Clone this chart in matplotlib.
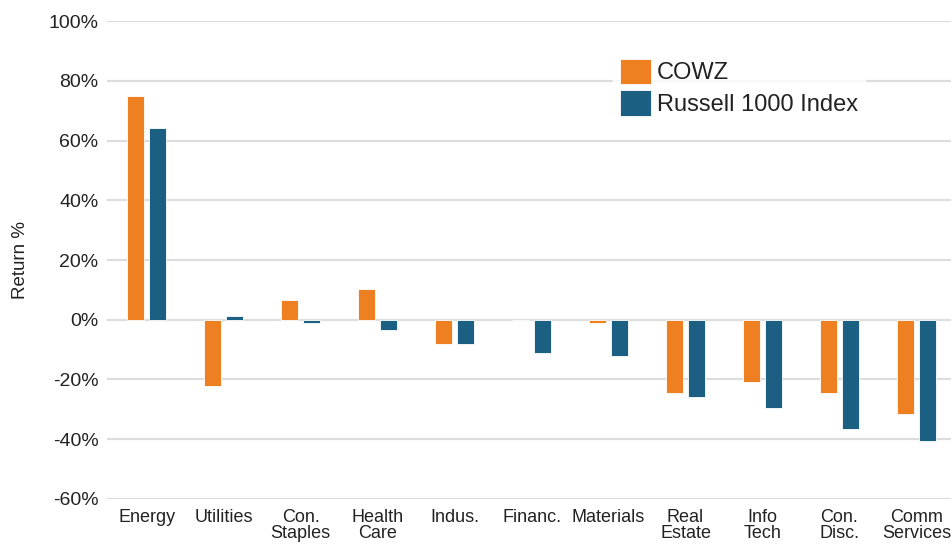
import numpy as np
import matplotlib.pyplot as plt
from matplotlib.ticker import FuncFormatter

# sector returns
sectors = ['Energy', 'Utilities', 'Con.\nStaples', 'Health\nCare', 'Indus.', 'Financ.',
           'Materials', 'Real\nEstate', 'Info\nTech', 'Con.\nDisc.', 'Comm\nServices']
cowz = [75.0, -22.3, 6.5, 10.3, -8.0, 0.0, -1.0, -24.7, -20.7, -24.7, -31.7]
russell = [64.3, 1.3, -1.0, -3.6, -8.2, -11.0, -12.1, -26.0, -29.7, -36.7, -40.7]
yticks = [-60, -40, -20, 0, 20, 40, 60, 80, 100]

orange = '#EE8022'
blue = '#1B5F82'
font = ['Liberation Sans', 'DejaVu Sans']

fig = plt.figure(figsize=(9.53, 5.44), dpi=100)
ax = fig.add_axes([0.112, 0.083, 0.886, 0.878])

x = np.arange(len(sectors))
w = 0.22
off = 0.142
ax.bar(x - off, cowz, w, color=orange, edgecolor='white', linewidth=0.6, label='COWZ', zorder=3)
ax.bar(x + off, russell, w, color=blue, edgecolor='white', linewidth=0.6,
       label='Russell 1000 Index', zorder=3)

ax.set_ylim(-60, 100)
ax.set_xlim(-0.52, 10.45)
ax.set_yticks(yticks)
ax.yaxis.set_major_formatter(FuncFormatter(lambda v, p: f'{v:.0f}%'))
ax.set_xticks(x)
ax.set_xticklabels(sectors, family=font, fontsize=13, color='#222222', linespacing=0.95)
for lab in ax.get_yticklabels():
    lab.set_family(font)
    lab.set_fontsize(14)
    lab.set_color('#222222')
ax.tick_params(axis='both', length=0)
ax.tick_params(axis='x', pad=7)
ax.tick_params(axis='y', pad=6)

ax.grid(axis='y', color='#DDDDDD', linewidth=1.6, zorder=0)
for s in ax.spines.values():
    s.set_visible(False)

ax.set_ylabel('Return %', family=font, fontsize=13.5, color='#222222', labelpad=14)

leg = ax.legend(loc='upper left', bbox_to_anchor=(0.631, 0.927), bbox_transform=fig.transFigure,
                frameon=True, fontsize=17, handlelength=1.3, handleheight=1.3,
                handletextpad=0.25, labelspacing=0.25, borderpad=0.3)
leg.get_frame().set_facecolor('white')
leg.get_frame().set_edgecolor('white')
for t in leg.get_texts():
    t.set_color('#222222')
    t.set_family(font)

fig.savefig('out.png', dpi=100, facecolor='white')
